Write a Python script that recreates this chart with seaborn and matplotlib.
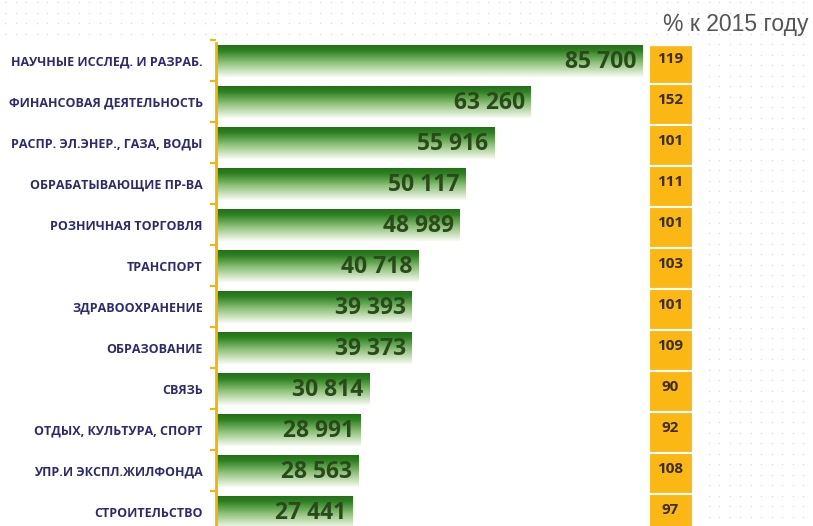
import numpy as np
import pandas as pd
import matplotlib.pyplot as plt
import matplotlib.colors as mcolors
import seaborn as sns

categories = [
    "НАУЧНЫЕ ИССЛЕД. И РАЗРАБ.",
    "ФИНАНСОВАЯ ДЕЯТЕЛЬНОСТЬ",
    "РАСПР. ЭЛ.ЭНЕР., ГАЗА, ВОДЫ",
    "ОБРАБАТЫВАЮЩИЕ ПР-ВА",
    "РОЗНИЧНАЯ ТОРГОВЛЯ",
    "ТРАНСПОРТ",
    "ЗДРАВООХРАНЕНИЕ",
    "ОБРАЗОВАНИЕ",
    "СВЯЗЬ",
    "ОТДЫХ, КУЛЬТУРА, СПОРТ",
    "УПР.И ЭКСПЛ.ЖИЛФОНДА",
    "СТРОИТЕЛЬСТВО",
]
salary = [85700, 63260, 55916, 50117, 48989, 40718, 39393, 39373, 30814, 28991, 28563, 27441]
pct_2015 = [119, 152, 101, 111, 101, 103, 101, 109, 90, 92, 108, 97]
title = "% к 2015 году"

df = pd.DataFrame({"cat": categories, "salary": salary, "pct": pct_2015})

sns.set_theme(style="white")
plt.rcParams["font.family"] = ["Open Sans", "DejaVu Sans"]

W, H = 813, 526
fig = plt.figure(figsize=(W / 100, H / 100), dpi=100)

# faint dotted background
bg = fig.add_axes([0, 0, 1, 1], zorder=-5)
bg.set_xlim(0, W)
bg.set_ylim(H, 0)
bg.axis("off")
gx, gy = np.meshgrid(np.arange(5, W, 10.5), np.arange(2, H, 10.5))
mask = (gy < 38) | (gx > 705)
bg.scatter(gx[mask], gy[mask], s=1.2, color="#dcdcdc", linewidths=0)

# main bar axes (pixel layout)
top_px, bot_px = 40.25, 532.25
left_px, right_px = 216, 645
ax = fig.add_axes([left_px / W, (H - bot_px) / H, (right_px - left_px) / W, (bot_px - top_px) / H])
sns.barplot(data=df, x="salary", y="cat", orient="h", ax=ax, width=0.77,
            color="#2b7a1e", saturation=1, errorbar=None)

cmap = mcolors.LinearSegmentedColormap.from_list(
    "g", [(0, "#236f18"), (0.18, "#2f8222"), (0.55, "#8fc27a"), (1, "#f7fbf3")])
grad = np.linspace(0, 1, 256).reshape(-1, 1)
for p in ax.patches:
    p.set_facecolor("none")
    p.set_edgecolor("none")
    x0, y0 = p.get_x(), p.get_y()
    im = ax.imshow(grad, cmap=cmap, aspect="auto", interpolation="bilinear",
                   extent=[x0, x0 + p.get_width(), y0 + p.get_height(), y0],
                   zorder=1)
    im.set_clip_path(p)
ax.set_xlim(0, 86250)
ax.set_ylim(11.5, -0.5)

for i, v in enumerate(salary):
    ax.text(v - 1200, i + 0.02, f"{v:,}".replace(",", " "), ha="right", va="center",
            fontsize=16.5, fontweight="bold", color="#2a4a1c", zorder=3)

ax.set_xlabel("")
ax.set_ylabel("")
ax.set_xticks([])
ax.set_yticks(range(len(categories)))
ax.set_yticklabels(categories, fontsize=9, fontweight="bold", color="#2e2a70")
ax.tick_params(axis="y", length=0, pad=9.5)
ax.set_yticks(np.arange(-0.5, len(categories), 1), minor=True)
ax.tick_params(axis="y", which="minor", length=4, width=1.5, color="#f4b400", left=True)
for s in ["top", "right", "bottom"]:
    ax.spines[s].set_visible(False)
ax.spines["left"].set_color("#f4b400")
ax.spines["left"].set_linewidth(2)
ax.spines["left"].set_bounds(-0.43, 11.5)
ax.patch.set_alpha(0)

# orange column with % to 2015
shift = 2.5
ax2 = fig.add_axes([648.5 / W, (H - bot_px - shift) / H, 44 / W, (bot_px - top_px) / H])
df["cell"] = 1
sns.barplot(data=df, x="cell", y="cat", orient="h", ax=ax2, width=1.0,
            color="#fbb714", saturation=1, errorbar=None, edgecolor="white", linewidth=1.5)
ax2.set_xlim(0, 1)
ax2.set_ylim(11.5, -0.5)
for i, v in enumerate(pct_2015):
    ax2.text(0.5, i - 0.1, str(v), ha="center", va="center", fontsize=11,
             fontweight="bold", color="#3a2d12")
ax2.axis("off")
# hide the top sliver so the first cell starts slightly lower
ax2.axhspan(-0.5, -0.44, color="white", zorder=5)

fig.text(808 / W, 1 - 31 / H, title, ha="right", va="baseline", fontsize=16.5,
         color="#555555", family=["Liberation Sans", "DejaVu Sans"])

fig.savefig("out.png", dpi=100)
